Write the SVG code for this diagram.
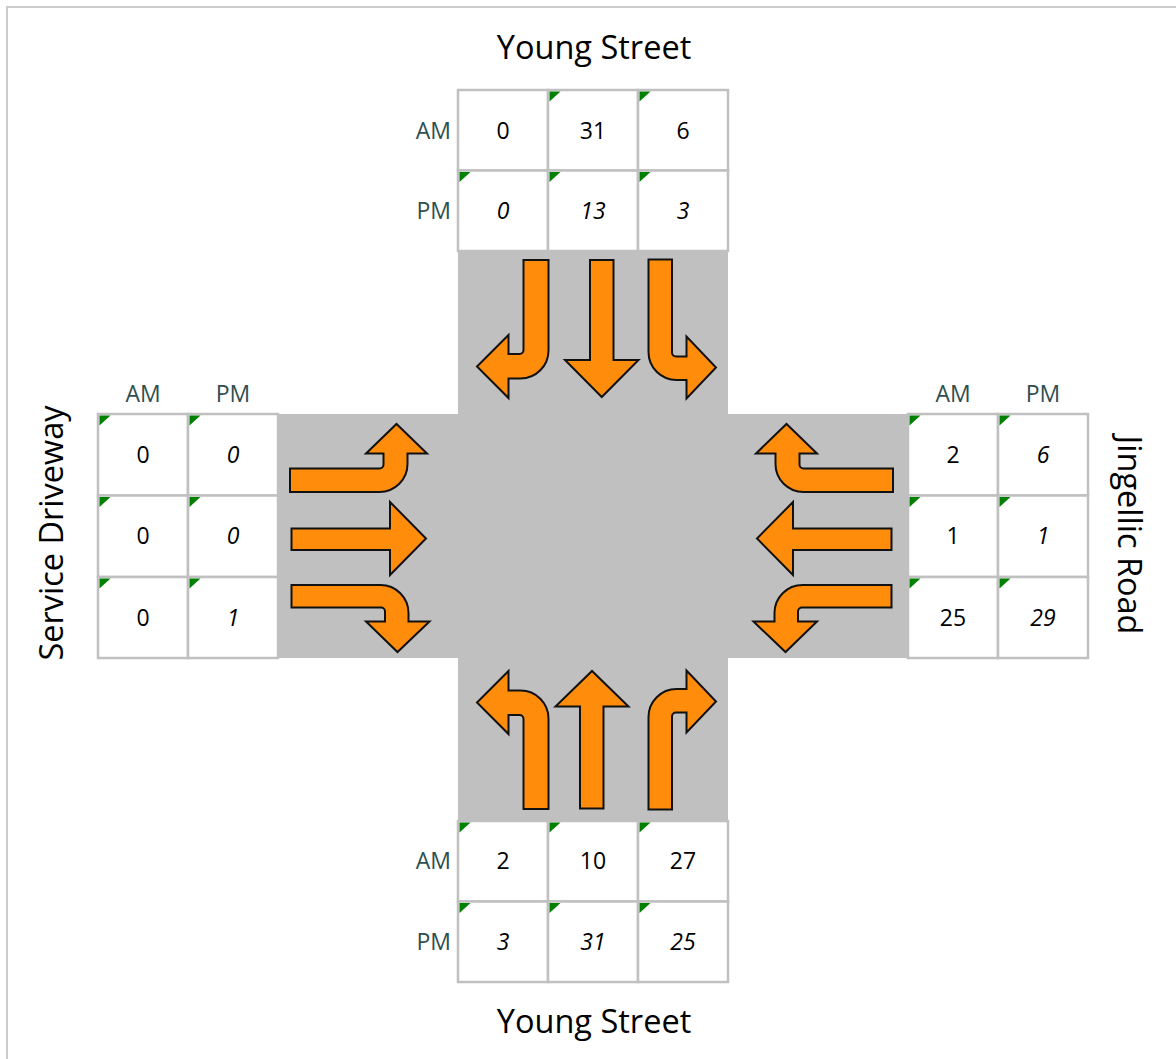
<svg xmlns="http://www.w3.org/2000/svg" width="1176" height="1059" viewBox="0 0 1176 1059">
<style>
.frame{fill:#fff;stroke:#cccccc;stroke-width:2}
.road{fill:#c0c0c0}
.cell{fill:#fff;stroke:#c0c0c0;stroke-width:2.5}
.tri{fill:#008000}
.num{font-family:"Open Sans",sans-serif;font-size:23px;fill:#000;text-anchor:middle}
.it{font-style:italic}
.lab{font-family:"Open Sans",sans-serif;font-size:23px;fill:#2f4f4f}
.street{font-family:"Open Sans",sans-serif;font-size:32.5px;fill:#000;text-anchor:middle}
.arr{fill:#ff8c0a;stroke:#111;stroke-width:2;stroke-linejoin:miter}
</style>
<defs>
<path id="t" class="tri" d="M0,0 H11 L0,10 Z"/>
</defs>
<rect class="frame" x="7" y="7" width="1200" height="1100"/>

<g id="roads">
<rect class="road" x="458" y="251" width="270" height="570"/>
<rect class="road" x="278" y="414" width="630" height="244"/>
</g>

<g id="north-table">
<rect class="cell" x="458" y="90" width="90" height="80.5"/>
<rect class="cell" x="548" y="90" width="90" height="80.5"/>
<rect class="cell" x="638" y="90" width="90" height="80.5"/>
<rect class="cell" x="458" y="170.5" width="90" height="80.5"/>
<rect class="cell" x="548" y="170.5" width="90" height="80.5"/>
<rect class="cell" x="638" y="170.5" width="90" height="80.5"/>
<use href="#t" x="549.5" y="91.5"/><use href="#t" x="639.5" y="91.5"/>
<use href="#t" x="459.5" y="172"/><use href="#t" x="549.5" y="172"/><use href="#t" x="639.5" y="172"/>
<text class="lab" x="451" y="138.5" text-anchor="end">AM</text>
<text class="lab" x="451" y="219" text-anchor="end">PM</text>
<text class="num" x="503" y="138.5">0</text>
<text class="num" x="593" y="138.5">31</text>
<text class="num" x="683" y="138.5">6</text>
<text class="num it" x="503" y="219">0</text>
<text class="num it" x="593" y="219">13</text>
<text class="num it" x="683" y="219">3</text>
</g>

<g id="west-table">
<text class="lab" x="143" y="401.5" text-anchor="middle">AM</text>
<text class="lab" x="233" y="401.5" text-anchor="middle">PM</text>
<rect class="cell" x="98" y="414" width="90" height="81.5"/>
<rect class="cell" x="188" y="414" width="90" height="81.5"/>
<rect class="cell" x="98" y="495.5" width="90" height="81.5"/>
<rect class="cell" x="188" y="495.5" width="90" height="81.5"/>
<rect class="cell" x="98" y="577" width="90" height="81"/>
<rect class="cell" x="188" y="577" width="90" height="81"/>
<use href="#t" x="99.5" y="415.5"/><use href="#t" x="189.5" y="415.5"/>
<use href="#t" x="99.5" y="497"/><use href="#t" x="189.5" y="497"/>
<use href="#t" x="99.5" y="578.5"/><use href="#t" x="189.5" y="578.5"/>
<text class="num" x="143" y="463">0</text>
<text class="num it" x="233" y="463">0</text>
<text class="num" x="143" y="544">0</text>
<text class="num it" x="233" y="544">0</text>
<text class="num" x="143" y="625.5">0</text>
<text class="num it" x="233" y="625.5">1</text>
</g>

<g id="east-table">
<text class="lab" x="953" y="401.5" text-anchor="middle">AM</text>
<text class="lab" x="1043" y="401.5" text-anchor="middle">PM</text>
<rect class="cell" x="908" y="414" width="90" height="81.5"/>
<rect class="cell" x="998" y="414" width="90" height="81.5"/>
<rect class="cell" x="908" y="495.5" width="90" height="81.5"/>
<rect class="cell" x="998" y="495.5" width="90" height="81.5"/>
<rect class="cell" x="908" y="577" width="90" height="81"/>
<rect class="cell" x="998" y="577" width="90" height="81"/>
<use href="#t" x="909.5" y="415.5"/><use href="#t" x="999.5" y="415.5"/>
<use href="#t" x="909.5" y="497"/><use href="#t" x="999.5" y="497"/>
<use href="#t" x="909.5" y="578.5"/><use href="#t" x="999.5" y="578.5"/>
<text class="num" x="953" y="463">2</text>
<text class="num it" x="1043" y="463">6</text>
<text class="num" x="953" y="544">1</text>
<text class="num it" x="1043" y="544">1</text>
<text class="num" x="953" y="625.5">25</text>
<text class="num it" x="1043" y="625.5">29</text>
</g>

<g id="south-table">
<rect class="cell" x="458" y="821" width="90" height="80.5"/>
<rect class="cell" x="548" y="821" width="90" height="80.5"/>
<rect class="cell" x="638" y="821" width="90" height="80.5"/>
<rect class="cell" x="458" y="901.5" width="90" height="80.5"/>
<rect class="cell" x="548" y="901.5" width="90" height="80.5"/>
<rect class="cell" x="638" y="901.5" width="90" height="80.5"/>
<use href="#t" x="459.5" y="822.5"/><use href="#t" x="549.5" y="822.5"/><use href="#t" x="639.5" y="822.5"/>
<use href="#t" x="459.5" y="903"/><use href="#t" x="549.5" y="903"/><use href="#t" x="639.5" y="903"/>
<text class="lab" x="451" y="869" text-anchor="end">AM</text>
<text class="lab" x="451" y="949.5" text-anchor="end">PM</text>
<text class="num" x="503" y="869">2</text>
<text class="num" x="593" y="869">10</text>
<text class="num" x="683" y="869">27</text>
<text class="num it" x="503" y="949.5">3</text>
<text class="num it" x="593" y="949.5">31</text>
<text class="num it" x="683" y="949.5">25</text>
</g>

<g id="street-labels">
<text class="street" x="594" y="59">Young Street</text>
<text class="street" x="594" y="1033">Young Street</text>
<text class="street" transform="translate(63,533) rotate(-90)">Service Driveway</text>
<text class="street" transform="translate(1118,535) rotate(90)">Jingellic Road</text>
</g>

<g id="arrows">
<g id="north-arrows">
<path class="arr" d="M523.5,260 H548.5 V350.5 A28,28 0 0 1 520.5,378.5 H508.5 V398 L477,366.5 L508.5,335 V354 H519.5 A4,4 0 0 0 523.5,350 Z"/>
<path class="arr" d="M590,260 H613.5 V360 H638.5 L601.75,397 L565,360 H590 Z"/>
<path class="arr" d="M648.5,259.5 H672 V352.5 A4,4 0 0 0 676,356.5 H686.5 V336.5 L716,367.5 L686.5,398.5 V380 H676.5 A28,28 0 0 1 648.5,352 Z"/>
</g>
<g id="south-arrows">
<path class="arr" transform="matrix(1,0,0,-1,0,1069)" d="M523.5,260 H548.5 V350.5 A28,28 0 0 1 520.5,378.5 H508.5 V398 L477,366.5 L508.5,335 V354 H519.5 A4,4 0 0 0 523.5,350 Z"/>
<path class="arr" d="M580,808.5 H603.5 V706.5 H628.5 L592,671 L555.5,706.5 H580 Z"/>
<path class="arr" transform="matrix(1,0,0,-1,0,1069)" d="M648.5,259.5 H672 V352.5 A4,4 0 0 0 676,356.5 H686.5 V336.5 L716,367.5 L686.5,398.5 V380 H676.5 A28,28 0 0 1 648.5,352 Z"/>
</g>
<g id="west-arrows">
<path class="arr" d="M290,468.5 H379.5 A4,4 0 0 0 383.5,464.5 V453.5 H366 L396.5,424 L427,453.5 H407.5 V464 A28,28 0 0 1 379.5,492 H290 Z"/>
<path class="arr" d="M291.5,528.5 H390 V502 L426,538.5 L390,575 V550 H291.5 Z"/>
<path class="arr" d="M291.5,585 H380.5 A28,28 0 0 1 408.5,613 V621.5 H429.5 L397.5,652 L366,621.5 H385 V611.5 A4,4 0 0 0 381,607.5 H291.5 Z"/>
</g>
<g id="east-arrows" transform="matrix(-1,0,0,1,1183,0)">
<path class="arr" d="M290,468.5 H379.5 A4,4 0 0 0 383.5,464.5 V453.5 H366 L396.5,424 L427,453.5 H407.5 V464 A28,28 0 0 1 379.5,492 H290 Z"/>
<path class="arr" d="M291.5,528.5 H390 V502 L426,538.5 L390,575 V550 H291.5 Z"/>
<path class="arr" d="M291.5,585 H380.5 A28,28 0 0 1 408.5,613 V621.5 H429.5 L397.5,652 L366,621.5 H385 V611.5 A4,4 0 0 0 381,607.5 H291.5 Z"/>
</g>
</g>
</svg>
